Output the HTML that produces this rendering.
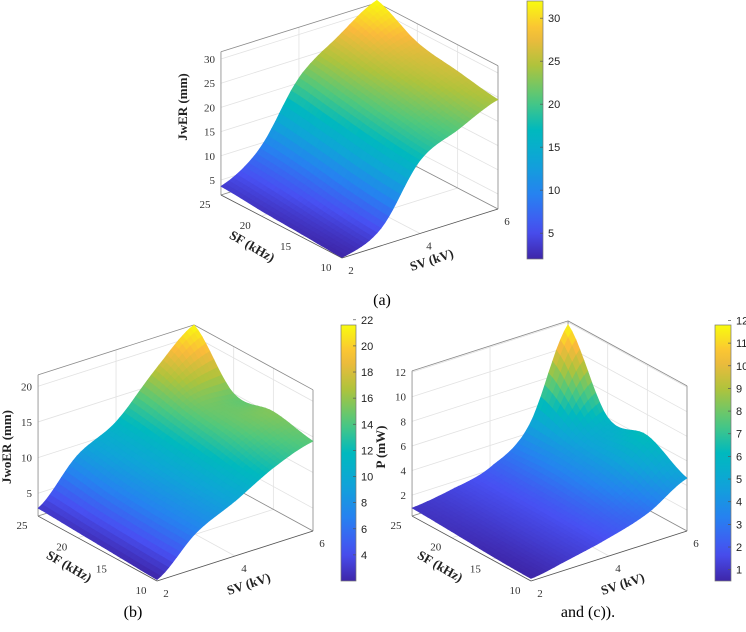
<!DOCTYPE html>
<html><head><meta charset="utf-8">
<style>
html,body{margin:0;padding:0;background:#fff;}
svg{display:block;}
.tk{font-family:"Liberation Serif",serif;font-size:11px;fill:#333;}
.cb{font-family:"Liberation Sans",sans-serif;font-size:11px;fill:#222;}
.al{font-family:"Liberation Serif",serif;font-size:13px;font-weight:bold;fill:#222;}
.cap{font-family:"Liberation Serif",serif;font-size:16px;fill:#000;}
</style></head>
<body>
<svg id="fig" width="746" height="632" viewBox="0 0 746 632" xmlns="http://www.w3.org/2000/svg">
<defs id="defs"></defs>
<text class="cap" x="382" y="305" text-anchor="middle">(a)</text>
<text class="cap" x="133" y="617" text-anchor="middle">(b)</text>
<text class="cap" x="588" y="617" text-anchor="middle">and (c)).</text>
</svg>
<script>
// ---- data ----
const svVals = [2, 3, 4, 5, 6];
const sfVals = [10, 15, 20, 25];
// rows: SV index, columns: SF index
const zA = [
  [2.0, 2.5, 3.0, 3.7],
  [5.5, 6.5, 8.0, 9.0],
  [17.0, 18.0, 19.5, 21.0],
  [21.0, 23.0, 25.0, 27.0],
  [24.5, 26.0, 27.6, 32.0]
];
const zB = [
  [2.0, 2.3, 2.6, 2.9],
  [6.8, 7.0, 7.5, 8.5],
  [9.5, 10.0, 10.8, 11.5],
  [12.5, 14.0, 15.0, 17.0],
  [14.4, 15.5, 15.0, 21.6]
];
const zC = [
  [0.5, 0.6, 0.8, 0.95],
  [1.1, 1.2, 1.3, 1.4],
  [1.8, 2.0, 2.1, 2.2],
  [2.8, 3.8, 4.3, 4.6],
  [4.6, 6.3, 6.0, 11.8]
];
const svTicks = [2, 4, 6];
const sfTicks = [10, 15, 20, 25];
const zTicksA = [5, 10, 15, 20, 25, 30];
const zTicksB = [5, 10, 15, 20];
const zTicksC = [2, 4, 6, 8, 10, 12];
const cbTicksA = [5, 10, 15, 20, 25, 30];
const cbTicksB = [4, 6, 8, 10, 12, 14, 16, 18, 20, 22];
const cbTicksC = [1, 2, 3, 4, 5, 6, 7, 8, 9, 10, 11, 12];

const NS = "http://www.w3.org/2000/svg";
const svg = document.getElementById('fig');
const defs = document.getElementById('defs');

const parulaStops = [
  [0.00, 62, 38, 168], [0.11, 72, 80, 242], [0.25, 38, 130, 240],
  [0.38, 15, 165, 215], [0.50, 0, 185, 190], [0.62, 80, 200, 125],
  [0.75, 175, 195, 60], [0.875, 250, 185, 60], [1.00, 249, 251, 14]
];
function parula(t) {
  t = Math.max(0, Math.min(1, t));
  for (let i = 1; i < parulaStops.length; i++) {
    const a = parulaStops[i - 1], b = parulaStops[i];
    if (t <= b[0]) {
      const f = (t - a[0]) / (b[0] - a[0]);
      return 'rgb(' + [1, 2, 3].map(k => Math.round(a[k] + (b[k] - a[k]) * f)).join(',') + ')';
    }
  }
  return 'rgb(249,251,14)';
}
function mk(tag, attrs, parent) {
  const e = document.createElementNS(NS, tag);
  for (const k in attrs) e.setAttribute(k, attrs[k]);
  (parent || svg).appendChild(e);
  return e;
}
function cr(p0, p1, p2, p3, t) {
  return 0.5 * (2 * p1 + (-p0 + p2) * t + (2 * p0 - 5 * p1 + 4 * p2 - p3) * t * t + (-p0 + 3 * p1 - 3 * p2 + p3) * t * t * t);
}
function sampleGrid(Z, fi, fj) {
  const ni = Z.length, nj = Z[0].length;
  const g = (i, j) => Z[Math.max(0, Math.min(ni - 1, i))][Math.max(0, Math.min(nj - 1, j))];
  const i = Math.min(ni - 2, Math.floor(fi)), j = Math.min(nj - 2, Math.floor(fj));
  const ti = fi - i, tj = fj - j;
  const rows = [];
  for (let a = -1; a <= 2; a++) rows.push(cr(g(i + a, j - 1), g(i + a, j), g(i + a, j + 1), g(i + a, j + 2), tj));
  return cr(rows[0], rows[1], rows[2], rows[3], ti);
}

function panel(cfg) {
  const G = mk('g', {});
  
  
  const P = (sv, sf, z) => [cfg.O[0] + cfg.u[0] * (sv - 2) + cfg.v[0] * (sf - 10),
                            cfg.O[1] + cfg.u[1] * (sv - 2) + cfg.v[1] * (sf - 10) - cfg.w * (z - cfg.zmin)];
  const line = (a, b, col, nm) => {
    const l = mk('line', {x1: a[0], y1: a[1], x2: b[0], y2: b[1], stroke: col, 'stroke-width': 0.8}, G);
    
    
  };
  const zl = cfg.zmin, zh = cfg.zmax;
  const grid = '#e2e2e2', box = '#8a8a8a';
  cfg.zTicks.forEach(z => {
    line(P(2, 25, z), P(6, 25, z), grid, 'grid-z-back');
    line(P(6, 25, z), P(6, 10, z), grid, 'grid-z-side');
  });
  svTicks.forEach(s => { line(P(s, 25, zl), P(s, 25, zh), grid, 'grid-sv-wall'); line(P(s, 10, zl), P(s, 25, zl), grid, 'grid-sv-floor'); });
  sfTicks.forEach(f => { line(P(6, f, zl), P(6, f, zh), grid, 'grid-sf-wall'); line(P(2, f, zl), P(6, f, zl), grid, 'grid-sf-floor'); });
  line(P(2, 25, zl), P(2, 25, zh), box, 'box-edge');
  line(P(6, 10, zl), P(6, 10, zh), box, 'box-edge');
  line(P(6, 25, zl), P(6, 25, zh), box, 'box-edge');
  line(P(2, 25, zh), P(6, 25, zh), box, 'box-edge');
  line(P(6, 25, zh), P(6, 10, zh), box, 'box-edge');
  line(P(2, 25, zl), P(6, 25, zl), box, 'box-edge');
  line(P(6, 25, zl), P(6, 10, zl), box, 'box-edge');
  line(P(2, 10, zl), P(2, 25, zl), '#555', 'sf-axis');
  line(P(2, 10, zl), P(6, 10, zl), '#555', 'sv-axis');
  const Z = cfg.Z;
  let lo = Infinity, hi = -Infinity;
  Z.forEach(r => r.forEach(v => { lo = Math.min(lo, v); hi = Math.max(hi, v); }));
  const N = 10;
  const ni = (svVals.length - 1) * N, nj = (sfVals.length - 1) * N;
  const sg = mk('g', {}, G);
  
  
  const pts = [];
  for (let a = 0; a <= ni; a++) {
    pts.push([]);
    for (let b = 0; b <= nj; b++) {
      const fi = a / N, fj = b / N;
      const z = sampleGrid(Z, fi, fj);
      const sv = svVals[0] + (svVals[svVals.length - 1] - svVals[0]) * a / ni;
      const sf = sfVals[0] + (sfVals[sfVals.length - 1] - sfVals[0]) * b / nj;
      pts[a].push({p: P(sv, sf, z), z: z});
    }
  }
  const quads = [];
  for (let a = 0; a < ni; a++) for (let b = 0; b < nj; b++) quads.push([a, b]);
  quads.sort((q1, q2) => (q2[0] + q2[1]) - (q1[0] + q1[1]));
  quads.forEach(([a, b]) => {
    const c = [pts[a][b], pts[a + 1][b], pts[a + 1][b + 1], pts[a][b + 1]];
    const zm = (c[0].z + c[1].z + c[2].z + c[3].z) / 4;
    const col = parula((zm - lo) / (hi - lo));
    const pg = mk('polygon', {points: c.map(q => q.p[0].toFixed(1) + ',' + q.p[1].toFixed(1)).join(' '),
      fill: col, stroke: col, 'stroke-width': 0.6}, sg);
    
    
  });
  sfTicks.forEach(f => {
    const p = P(2, f, zl);
    const t = mk('text', {x: p[0] - 16, y: p[1] + 13, 'text-anchor': 'middle', class: 'tk'}, G);
    t.textContent = f;
    
    
  });
  svTicks.forEach(s => {
    const p = P(s, 10, zl);
    const t = mk('text', {x: p[0] + 9, y: p[1] + 16, 'text-anchor': 'middle', class: 'tk'}, G);
    t.textContent = s;
    
    
  });
  cfg.zTicks.forEach(z => {
    const p = P(2, 25, z);
    const t = mk('text', {x: p[0] - 6, y: p[1] + 4, 'text-anchor': 'end', class: 'tk'}, G);
    t.textContent = z;
    
    
  });
  const L = (txt, x, y, rot, nm) => {
    const t = mk('text', {x: x, y: y, 'text-anchor': 'middle', class: 'al', transform: 'rotate(' + rot + ' ' + x + ' ' + y + ')'}, G);
    t.textContent = txt;
    
    
  };
  L(cfg.zLabel, cfg.zl[0], cfg.zl[1], -90, 'z-axis-title');
  L('SF (kHz)', cfg.sfl[0], cfg.sfl[1], 30, 'sf-axis-title');
  L('SV (kV)', cfg.svl[0], cfg.svl[1], -18, 'sv-axis-title');
  const gid = 'grad' + cfg.name;
  const lg = mk('linearGradient', {id: gid, x1: 0, y1: 1, x2: 0, y2: 0}, defs);
  for (let k = 0; k <= 20; k++) mk('stop', {offset: k / 20, 'stop-color': parula(k / 20)}, lg);
  const cb = cfg.cb;
  const r = mk('rect', {x: cb.x, y: cb.y0, width: cb.w, height: cb.y1 - cb.y0, fill: 'url(#' + gid + ')', stroke: '#777', 'stroke-width': 0.7}, G);
  
  
  const cy = v => cb.y1 - (v - lo) / (hi - lo) * (cb.y1 - cb.y0);
  cfg.cbTicks.forEach(v => {
    const y = cy(v);
    const tl = mk('line', {x1: cb.x + cb.w - 3, y1: y, x2: cb.x + cb.w, y2: y, stroke: '#555', 'stroke-width': 0.7}, G);
    
    
    const t = mk('text', {x: cb.x + cb.w + 5, y: y + 4, class: 'cb'}, G);
    t.textContent = v;
    
    
  });
}

panel({name: 'panel-a', O: [342, 258], u: [39, -12.25], v: [-8.07, -4.2], w: 4.84, zmin: 1.9, zmax: 31.5,
  Z: zA, zTicks: zTicksA, zLabel: 'JwER (mm)', zl: [187, 107], sfl: [250, 250], svl: [433, 264],
  cb: {x: 527, w: 16, y0: 1, y1: 259}, cbTicks: cbTicksA});
panel({name: 'panel-b', O: [157, 581], u: [39, -12.5], v: [-7.93, -4.33], w: 7.13, zmin: 1.8, zmax: 21.6,
  Z: zB, zTicks: zTicksB, zLabel: 'JwoER (mm)', zl: [11, 447], sfl: [67, 570], svl: [250, 588],
  cb: {x: 341, w: 15, y0: 325, y1: 581}, cbTicks: cbTicksB});
panel({name: 'panel-c', O: [531, 581], u: [39, -12.5], v: [-7.93, -4.33], w: 12.3, zmin: 0.3, zmax: 12.1,
  Z: zC, zTicks: zTicksC, zLabel: 'P (mW)', zl: [385, 447], sfl: [438, 570], svl: [624, 588],
  cb: {x: 715, w: 16, y0: 325, y1: 581}, cbTicks: cbTicksC});
</script>
</body></html>
